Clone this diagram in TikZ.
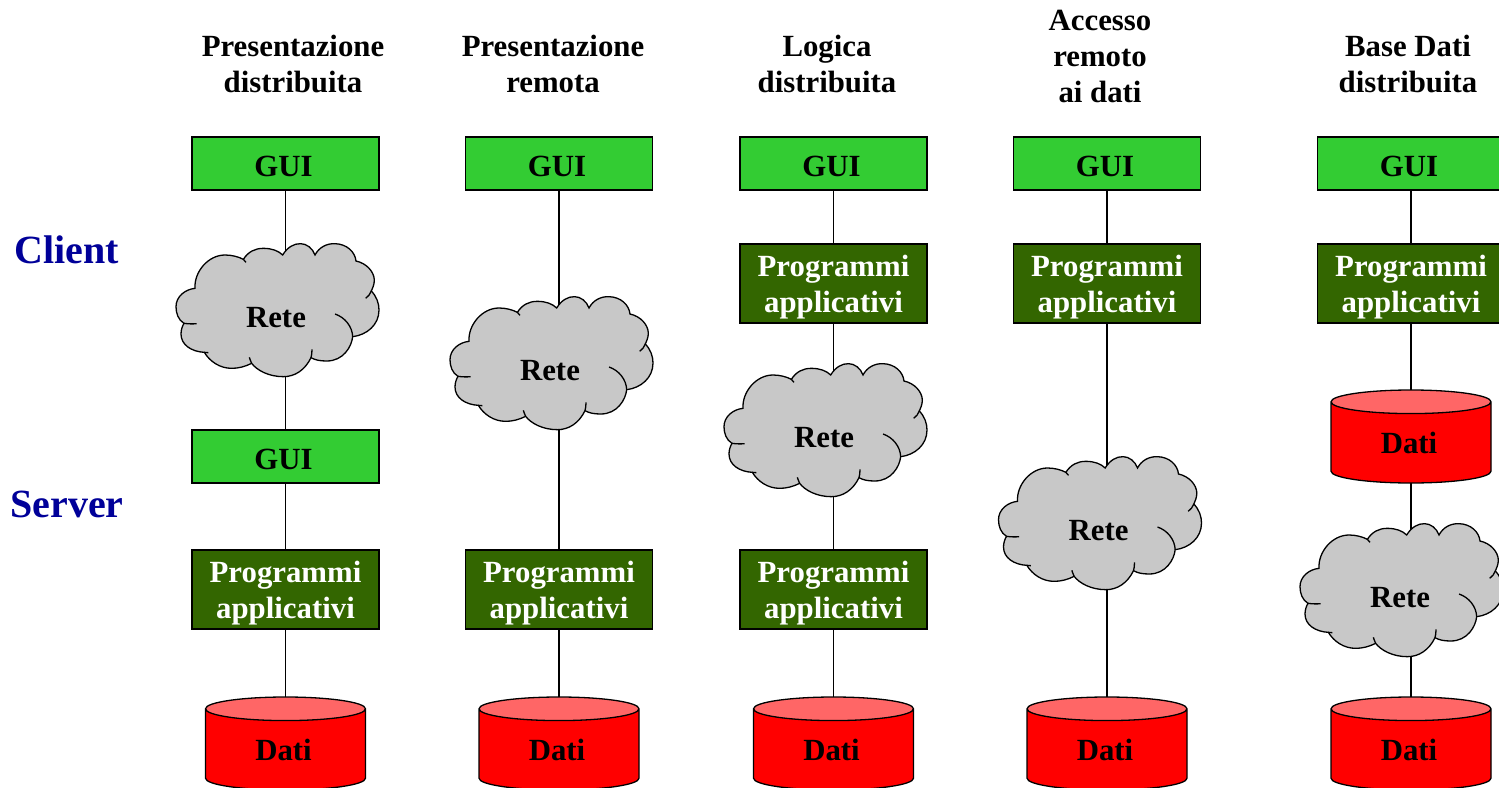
\documentclass[tikz,border=0pt]{standalone}
\usepackage{fontspec}
\setmainfont{Liberation Serif}
\usepackage{tikz}
\usetikzlibrary{shapes.geometric, positioning, backgrounds}
\definecolor{guigreen}{RGB}{51,204,51}
\definecolor{proggreen}{RGB}{51,102,0}
\definecolor{cloudgray}{RGB}{200,200,200}
\definecolor{topred}{RGB}{255,102,102}
\definecolor{sidenavy}{RGB}{0,0,153}
\newcommand{\retetext}{\raisebox{-8.5pt}[0pt][0pt]{\makebox[0pt]{Rete\hspace{2pt}}}}
\tikzset{
  gui/.style={
      draw=black,
      fill=guigreen,
      rectangle,
      minimum width=93.5pt,
      minimum height=26.5pt,
      inner sep=0pt,
      outer sep=0pt,
      text height=13.2pt,
      text depth=0pt,
      line width=0.65pt,
      execute at end node={\hspace{2pt}},
      font=\bfseries\fontsize{15.4}{18}\selectfont
  },
  prog/.style={
      draw=black,
      fill=proggreen,
      text=white,
      rectangle,
      minimum width=93.5pt,
      minimum height=39.5pt,
      inner sep=0pt,
      outer sep=0pt,
      text height=32.2pt,
      text depth=3.2pt,
      align=center,
      line width=0.65pt,
      font=\bfseries\fontsize{15.4}{18}\selectfont
  },
  dati/.style={
      draw=black,
      cylinder,
      shape border rotate=90,
      shape aspect=0.39,
      cylinder uses custom fill,
      cylinder body fill=red,
      cylinder end fill=topred,
      minimum width=80pt,
      minimum height=46.5pt,
      inner sep=0pt,
      outer sep=0pt,
      line width=0.65pt,
      execute at end node={\hspace{2pt}},
      font=\bfseries\fontsize{15.4}{18}\selectfont
  },
  rete/.style={
      rectangle,
      minimum width=103pt,
      minimum height=69pt,
      inner sep=0pt,
      outer sep=0pt,
      font=\bfseries\fontsize{15.4}{18}\selectfont
  },
  cloudpuffs/.pic={
      \begin{scope}[x=0.16667pt, y=-0.16667pt, shift={(-324,-240)}, line width=0.65pt]
        \draw[fill=cloudgray] (338,75) .. controls (352,52) and (372,40) .. (392,41)
          .. controls (410,41) and (428,55) .. (435,75)
          .. controls (447,52) and (470,40) .. (495,41)
          .. controls (530,42) and (555,65) .. (558,93)
          .. controls (590,100) and (612,125) .. (613,150)
          .. controls (613,165) and (607,175) .. (604,183)
          .. controls (620,200) and (627,220) .. (627,240)
          .. controls (627,285) and (590,315) .. (548,320)
          .. controls (545,350) and (520,393) .. (470,393)
          .. controls (450,393) and (435,390) .. (423,383)
          .. controls (405,420) and (375,440) .. (340,440)
          .. controls (295,440) and (260,420) .. (245,400)
          .. controls (225,410) and (205,415) .. (185,415)
          .. controls (150,415) and (120,395) .. (103,367)
          .. controls (65,365) and (33,345) .. (33,312)
          .. controls (33,300) and (37,288) .. (42,280)
          .. controls (25,270) and (18,250) .. (18,230)
          .. controls (18,200) and (45,178) .. (75,175)
          .. controls (72,125) and (115,75) .. (165,75)
          .. controls (185,75) and (205,80) .. (220,88)
          .. controls (235,65) and (255,55) .. (280,55)
          .. controls (305,55) and (325,62) .. (338,75) -- cycle;
        % the small curls inside the outline
        \draw (42,280) .. controls (55,282) and (70,282) .. (80,281);
        \draw (587,205) .. controls (595,200) and (600,192) .. (604,183);
        \draw (495,252) .. controls (525,262) and (547,290) .. (548,320);
        \draw (426,358) .. controls (426,368) and (425,376) .. (423,383);
        \draw (238,382) .. controls (240,388) and (242,394) .. (245,400);
        \draw (103,367) -- (115,368);
        \draw (220,88) -- (228,97);
      \end{scope}
  },
  heading/.style={
      align=center,
      inner sep=0pt,
      font=\bfseries\fontsize{15.4}{18}\selectfont
  },
  side/.style={
      text=sidenavy,
      inner sep=0pt,
      font=\bfseries\fontsize{20}{24}\selectfont
  },
  link/.style={line width=0.65pt}
}
\begin{document}
\begin{tikzpicture}[x=0.5pt, y=-0.5pt]
      \useasboundingbox (0,0) rectangle (1499,787);
      % Side labels
      \node (client) [side] at (67,250) {Client};
      \node (server) [side] at (67,504) {Server};

      % Top row
      \node (gui1) [gui] at (285.5,163.5) {GUI};
      \node (gui2) [gui, right=43.25pt of gui1] {GUI};
      \node (gui3) [gui, right=43.75pt of gui2] {GUI};
      \node (gui4) [gui, right=43.25pt of gui3] {GUI};
      \node (gui5) [gui, right=58.5pt of gui4] {GUI};

      % Headings
      \node (head1) [heading] at (293,64) {Presentazione\\distribuita};
      \node (head2) [heading] at (553,64) {Presentazione\\remota};
      \node (head3) [heading] at (827,64) {Logica\\distribuita};
      \node (head4) [heading] at (1100,56) {Accesso\\remoto\\ai dati};
      \node (head5) [heading] at (1408,64) {Base Dati\\distribuita};

      % First column
      \node (rete1) [rete, below=25.5pt of gui1, xshift=-3.75pt] {\retetext};
      \node (guib1) [gui, below=120pt of gui1] {GUI};
      \node (prog1) [prog, below=33.5pt of guib1] {Programmi\\applicativi};
      \node (dati1) [dati, below=34pt of prog1] {Dati};

      % Second column
      \node (rete2) [rete, below=52pt of gui2, xshift=-3.5pt] {\retetext};
      \node (prog2) [prog, below=180pt of gui2] {Programmi\\applicativi};
      \node (dati2) [dati, below=34pt of prog2] {Dati};

      % Third column
      \node (proga3) [prog, below=27pt of gui3] {Programmi\\applicativi};
      \node (rete3) [rete, below=19pt of proga3, xshift=-3.75pt] {\retetext};
      \node (prog3) [prog, below=180pt of gui3] {Programmi\\applicativi};
      \node (dati3) [dati, below=34pt of prog3] {Dati};

      % Fourth column
      \node (prog4) [prog, below=27pt of gui4] {Programmi\\applicativi};
      \node (rete4) [rete, below=65.5pt of prog4, xshift=-3.25pt] {\retetext};
      \node (dati4) [dati, below=187pt of prog4] {Dati};

      % Fifth column
      \node (prog5) [prog, below=27pt of gui5] {Programmi\\applicativi};
      \node (datia5) [dati, below=33.5pt of prog5] {Dati};
      \node (rete5) [rete, below=19pt of datia5, xshift=-4.5pt] {\retetext};
      \node (dati5) [dati, below=19pt of rete5, xshift=4.5pt] {Dati};

      \begin{scope}[on background layer]
        % Connections
        \draw[link] (gui1) -- (gui1 |- rete1);
        \draw[link] (gui1 |- rete1) -- (guib1);
        \draw[link] (guib1) -- (prog1);
        \draw[link] (prog1) -- (prog1 |- dati1);
        \draw[link] (gui2) -- (gui2 |- rete2);
        \draw[link] (gui2 |- rete2) -- (prog2);
        \draw[link] (prog2) -- (prog2 |- dati2);
        \draw[link] (gui3) -- (proga3);
        \draw[link] (proga3) -- (proga3 |- rete3);
        \draw[link] (proga3 |- rete3) -- (prog3);
        \draw[link] (prog3) -- (prog3 |- dati3);
        \draw[link] (gui4) -- (prog4);
        \draw[link] (prog4) -- (prog4 |- rete4);
        \draw[link] (prog4 |- rete4) -- (prog4 |- dati4);
        \draw[link] (gui5) -- (prog5);
        \draw[link] (prog5) -- (prog5 |- datia5);
        \draw[link] (prog5 |- datia5) -- (prog5 |- rete5);
        \draw[link] (prog5 |- rete5) -- (prog5 |- dati5);

        % Clouds over the connections
        \pic at (rete1) {cloudpuffs};
        \pic at (rete2) {cloudpuffs};
        \pic at (rete3) {cloudpuffs};
        \pic at (rete4) {cloudpuffs};
        \pic at (rete5) {cloudpuffs};
      \end{scope}
    \end{tikzpicture}
\end{document}
